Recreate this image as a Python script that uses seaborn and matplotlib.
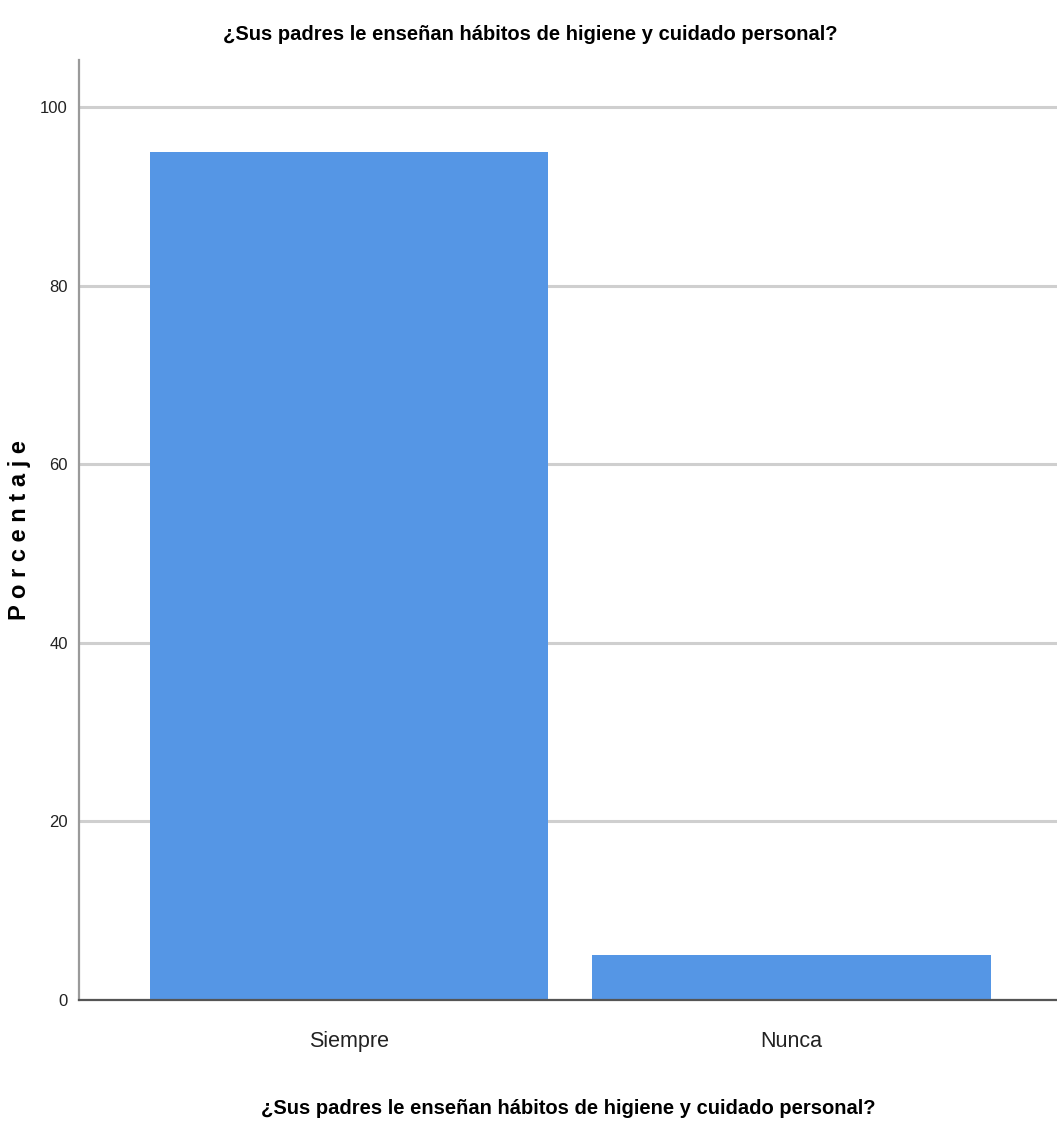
import matplotlib
matplotlib.use("Agg")
import matplotlib.pyplot as plt
import seaborn as sns
import pandas as pd

categories = ["Siempre", "Nunca"]
percentages = [95.0, 5.0]
yticks = [0, 20, 40, 60, 80, 100]
title = "¿Sus padres le enseñan hábitos de higiene y cuidado personal?"
ylabel = "Porcentaje"

sns.set_theme(style="white")
plt.rcParams["font.family"] = ["Liberation Sans", "DejaVu Sans"]

df = pd.DataFrame({"cat": categories, "pct": percentages})

fig = plt.figure(figsize=(10.57, 11.35), dpi=100)
ax = fig.add_axes([79 / 1057, 1 - 1000 / 1135, 1 - 79 / 1057, (1000 - 60) / 1135])

sns.barplot(data=df, x="cat", y="pct", color="#5596E5", width=0.9,
            saturation=1, ax=ax, zorder=3, linewidth=0)

ax.set_xlim(-0.61, 1.6)
ax.set_ylim(0, 105.3)
ax.set_yticks(yticks)
ax.set_yticklabels([str(v) for v in yticks], fontsize=12, color="#222222")
ax.tick_params(axis="y", length=0, pad=8)
ax.tick_params(axis="x", length=0, pad=22, labelsize=15.5, labelcolor="#222222")
ax.yaxis.grid(True, color="#cfcfcf", linewidth=2.2, zorder=0)
ax.set_axisbelow(True)

for s in ["top", "right"]:
    ax.spines[s].set_visible(False)
ax.spines["left"].set_color("#9a9a9a")
ax.spines["left"].set_linewidth(1.6)
ax.spines["bottom"].set_color("#555555")
ax.spines["bottom"].set_linewidth(1.6)
ax.spines["bottom"].set_zorder(4)

ax.set_xlabel(title, fontsize=14.5, fontweight="bold", labelpad=34, color="black")
ax.set_ylabel(" ".join(ylabel), fontsize=17, fontweight="bold", color="black")
ax.yaxis.set_label_coords((31 - 79) / 978, 0.5)
fig.text(530 / 1057, 1 - 35 / 1135, title, ha="center", va="center",
         fontsize=14.5, fontweight="bold", color="black")

fig.savefig("out.png", dpi=100)
